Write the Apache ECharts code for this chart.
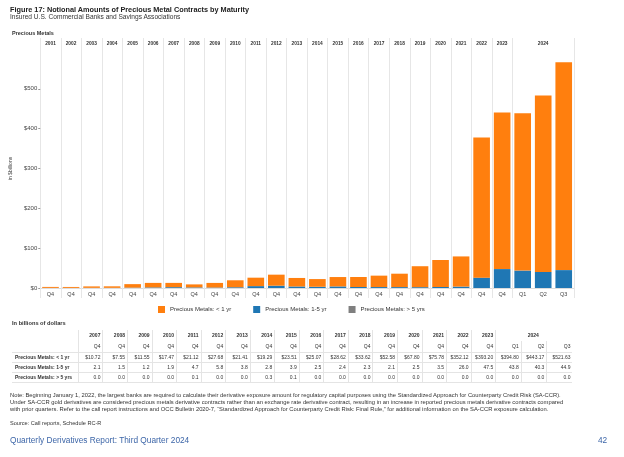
<!DOCTYPE html>
<html>
<head>
<meta charset="utf-8">
<script src="https://cdn.jsdelivr.net/npm/echarts@6/dist/echarts.min.js"></script>
<style>
  html, body { margin: 0; padding: 0; background: #fff; }
  body { width: 624px; height: 457px; position: relative; overflow: hidden;
         font-family: 'Liberation Sans', Arial, sans-serif; color: #222; }
  #chart { position: absolute; left: 0; top: 0; width: 624px; height: 457px; }
  .t { position: absolute; white-space: nowrap; line-height: 1; }
  #tbl { position: absolute; left: 12px; top: 330px; border-collapse: collapse; table-layout: fixed;
         font-family: 'Liberation Sans', Arial, sans-serif; font-size: 5px; color: #333; }
  #tbl td { padding: 0 2px 0 0; text-align: right; white-space: nowrap; overflow: hidden;
            border-left: 1px solid #e4e4e4; line-height: 1; }
  #tbl td.lab { text-align: left; padding-left: 3px; font-weight: bold; border-left: none; }
  #tbl tr.h td { height: 11px; font-weight: bold; }
  #tbl tr.d td { height: 9px; border-top: 1px solid #e4e4e4; }
  #tbl tr.last td { border-bottom: 1px solid #e4e4e4; }
</style>
</head>
<body>
<div id="chart"></div>
<div class="t" style="left:10px;top:5.8px;font-size:7.3px;font-weight:bold;color:#222;">Figure 17: Notional Amounts of Precious Metal Contracts by Maturity</div>
<div class="t" style="left:10px;top:13.6px;font-size:6.6px;color:#333;">Insured U.S. Commercial Banks and Savings Associations</div>
<div class="t" style="left:12px;top:30.5px;font-size:5.5px;font-weight:bold;color:#333;">Precious Metals</div>
<div class="t" style="left:12px;top:321px;font-size:5.7px;font-weight:bold;color:#333;">In billions of dollars</div>
<table id="tbl"></table>
<div class="t" style="left:10px;top:392px;font-size:5.8px;color:#333;line-height:7px;">Note: Beginning January 1, 2022, the largest banks are required to calculate their derivative exposure amount for regulatory capital purposes using the Standardized Approach for Counterparty Credit Risk (SA-CCR).<br>Under SA-CCR gold derivatives are considered precious metals derivative contracts rather than an exchange rate derivative contract, resulting in an increase in reported precious metals derivative contracts compared<br>with prior quarters. Refer to the call report instructions and OCC Bulletin 2020-7, “Standardized Approach for Counterparty Credit Risk: Final Rule,” for additional information on the SA-CCR exposure calculation.</div>
<div class="t" style="left:10px;top:420.5px;font-size:5.6px;color:#333;">Source: Call reports, Schedule RC-R</div>
<div class="t" style="left:10px;top:436px;font-size:8.3px;color:#3d66a8;">Quarterly Derivatives Report: Third Quarter 2024</div>
<div class="t" style="left:598px;top:436px;font-size:8.3px;color:#3d66a8;">42</div>
<script>
// ---- data ----
const years = ['2001','2002','2003','2004','2005','2006','2007','2008','2009','2010','2011','2012',
  '2013','2014','2015','2016','2017','2018','2019','2020','2021','2022','2023','2024','2024','2024'];
const quarters = ['Q4','Q4','Q4','Q4','Q4','Q4','Q4','Q4','Q4','Q4','Q4','Q4','Q4','Q4','Q4','Q4',
  'Q4','Q4','Q4','Q4','Q4','Q4','Q4','Q1','Q2','Q3'];
const lessThan1yr = [2.4, 2.3, 3.6, 3.8, 8.8, 11.3, 10.72, 7.55, 11.55, 17.47, 21.12, 27.68, 21.41,
  19.29, 23.51, 25.07, 28.62, 33.62, 52.58, 67.80, 75.78, 352.12, 393.20, 394.80, 443.17, 521.63];
const oneTo5yr = [0.3, 0.3, 0.4, 0.4, 0.9, 1.5, 2.1, 1.5, 1.2, 1.9, 4.7, 5.8, 3.8, 2.8, 3.9, 2.5,
  2.4, 2.3, 2.1, 2.5, 3.5, 26.0, 47.5, 43.8, 40.3, 44.9];
const over5yr = [0, 0, 0, 0, 0, 0, 0.0, 0.0, 0.0, 0.0, 0.1, 0.0, 0.0, 0.3, 0.1, 0.0, 0.0, 0.0, 0.0,
  0.0, 0.0, 0.0, 0.0, 0.0, 0.0, 0.0];
const seriesNames = ['Precious Metals: < 1 yr', 'Precious Metals: 1-5 yr', 'Precious Metals: > 5 yrs'];
const tableFirstIndex = 6; // table starts at 2007
const yTickValues = [0, 100, 200, 300, 400, 500, 600];

// ---- derived ----
const categories = years.map((y, i) => y + ' ' + quarters[i]);
const isYearStart = i => i === 0 || years[i] !== years[i - 1];
// header label: year placed at the middle of its group of columns
const headerLabels = years.map(() => '');
{
  let s = 0;
  for (let i = 1; i <= years.length; i++) {
    if (i === years.length || years[i] !== years[s]) {
      headerLabels[s + Math.floor((i - 1 - s) / 2)] = years[s];
      s = i;
    }
  }
}
const sepColor = '#e6e6e6';

const chart = echarts.init(document.getElementById('chart'), null, { renderer: 'canvas' });
chart.setOption({
  animation: false,
  textStyle: { fontFamily: "'Liberation Sans', Arial, sans-serif" },
  grid: { left: 38, right: 50, top: 49, bottom: 169, containLabel: false },
  legend: {
    left: 158, top: 306, padding: 0, itemWidth: 7, itemHeight: 7, itemGap: 22, icon: 'rect',
    data: seriesNames,
    textStyle: { fontSize: 6, color: '#333', fontFamily: "'Liberation Sans', Arial, sans-serif" }
  },
  xAxis: [
    {
      type: 'category', data: categories, position: 'bottom',
      axisLine: { show: true, lineStyle: { color: '#dcdcdc' } },
      axisTick: { show: true, length: 10, interval: (i) => isYearStart(i), lineStyle: { color: sepColor } },
      splitLine: { show: true, interval: (i) => isYearStart(i), lineStyle: { color: sepColor, width: 1 } },
      axisLabel: { interval: 0, fontSize: 5.5, color: '#444', margin: 3,
        formatter: (v, i) => quarters[i] }
    },
    {
      type: 'category', data: categories, position: 'top',
      axisLine: { show: false },
      axisTick: { show: true, length: 11, interval: (i) => isYearStart(i), lineStyle: { color: sepColor } },
      splitLine: { show: false },
      axisLabel: { interval: 0, fontSize: 4.8, fontWeight: 'bold', color: '#333', margin: 3,
        formatter: (v, i) => headerLabels[i] }
    }
  ],
  yAxis: {
    type: 'value', min: yTickValues[0], max: yTickValues[yTickValues.length - 1], interval: 100,
    axisLine: { show: false },
    axisTick: { show: true, length: 2, lineStyle: { color: '#999' } },
    splitLine: { show: false },
    axisLabel: { fontSize: 6, color: '#444', margin: 3, showMaxLabel: false,
      formatter: v => '$' + v },
    name: 'in $billions', nameLocation: 'middle', nameGap: 19,
    nameTextStyle: { fontSize: 5, color: '#444' }
  },
  series: [
    { name: seriesNames[1], type: 'bar', stack: 'pm', data: oneTo5yr, barCategoryGap: '19%',
      itemStyle: { color: '#1F77B4' } },
    { name: seriesNames[2], type: 'bar', stack: 'pm', data: over5yr,
      itemStyle: { color: '#7F7F7F' } },
    { name: seriesNames[0], type: 'bar', stack: 'pm', data: lessThan1yr,
      itemStyle: { color: '#FF7F0E' } }
  ]
});

// ---- table built from the same arrays ----
(function buildTable() {
  const tbl = document.getElementById('tbl');
  const n = years.length - tableFirstIndex;
  let cg = '<colgroup><col style="width:66.4px">';
  for (let k = 0; k < n; k++) {
    const i = tableFirstIndex + k;
    cg += '<col style="width:' + (years[i] === '2024' ? 25.6 : 24.56) + 'px">';
  }
  cg += '</colgroup>';
  let r1 = '<tr class="h"><td class="lab"></td>';
  for (let k = 0; k < n; ) {
    const i = tableFirstIndex + k;
    let span = 1;
    while (k + span < n && years[i + span] === years[i]) span++;
    r1 += '<td colspan="' + span + '" style="text-align:' + (span > 1 ? 'center' : 'right') + '">' + years[i] + '</td>';
    k += span;
  }
  r1 += '</tr>';
  let r2 = '<tr class="h"><td class="lab"></td>';
  for (let k = 0; k < n; k++) r2 += '<td style="font-weight:normal">' + quarters[tableFirstIndex + k] + '</td>';
  r2 += '</tr>';
  const row = (label, arr, fmt, cls) => {
    let s = '<tr class="d ' + cls + '"><td class="lab">' + label + '</td>';
    for (let k = 0; k < n; k++) s += '<td>' + fmt(arr[tableFirstIndex + k]) + '</td>';
    return s + '</tr>';
  };
  tbl.innerHTML = cg + r1 + r2 +
    row(seriesNames[0], lessThan1yr, v => '$' + v.toFixed(2), '') +
    row(seriesNames[1], oneTo5yr, v => v.toFixed(1), '') +
    row(seriesNames[2], over5yr, v => v.toFixed(1), 'last');
})();
</script>
</body>
</html>
